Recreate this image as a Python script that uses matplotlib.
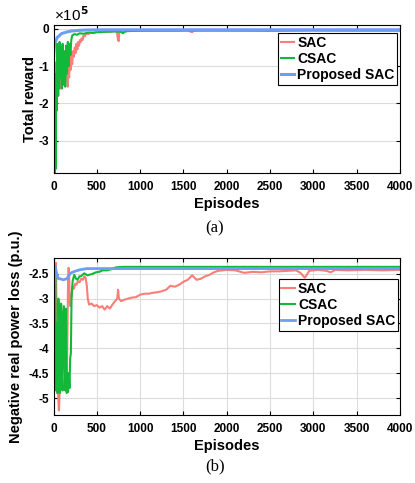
import matplotlib
matplotlib.use('Agg')
import matplotlib.pyplot as plt
from matplotlib.ticker import FuncFormatter, FormatStrFormatter
from numpy import array

plt.rcParams['font.family'] = ['Liberation Sans', 'DejaVu Sans']
plt.rcParams['font.weight'] = 'bold'
plt.rcParams['axes.labelweight'] = 'bold'
plt.rcParams['axes.unicode_minus'] = False

labels = ['SAC', 'CSAC', 'Proposed SAC']
colors = ['#f77f77', '#12b83a', '#6e9ef2']

# (a) total reward, values in units of 1e5
sac_a_ep = [0, 8, 15, 22, 30, 38, 45, 55, 65, 75, 85, 95, 105, 115, 125, 135, 145, 155, 165, 172,
            180, 188, 196, 205, 215, 225, 235, 245, 255, 265, 275, 285, 295, 305, 315, 325, 335, 345,
            360, 380, 400, 430, 460, 500, 550, 600, 650, 700, 730, 745, 752, 760, 780, 850, 950,
            1050, 1200, 1400, 1550, 1600, 1620, 1650, 1800, 2000, 2250, 2500, 2750, 3000, 3250,
            3500, 3750, 4000]
sac_a = [-0.7, -1.3, -0.9, -1.7, -1.4, -2.0, -1.3, -1.8, -1.0, -1.6, -0.9, -1.45, -0.8, -1.2, -0.6,
         -1.1, -0.7, -1.3, -1.55, -0.9, -1.3, -0.85, -1.1, -0.65, -0.95, -0.6, -0.75, -0.5, -0.65,
         -0.4, -0.55, -0.35, -0.45, -0.3, -0.35, -0.25, -0.3, -0.18, -0.2, -0.12, -0.14, -0.1,
         -0.11, -0.08, -0.09, -0.07, -0.08, -0.06, -0.07, -0.3, -0.33, -0.08, -0.06, -0.06, -0.05,
         -0.05, -0.045, -0.05, -0.045, -0.09, -0.05, -0.045, -0.04, -0.045, -0.04, -0.045, -0.04,
         -0.04, -0.045, -0.04, -0.04, -0.04]

csac_a_ep = [0, 5, 10, 15, 20, 25, 30, 35, 40, 48, 55, 62, 70, 78, 85, 95, 105, 115, 125, 135,
             145, 155, 165, 175, 185, 195, 205, 215, 240, 270, 300, 350, 400, 450, 500, 600, 700,
             780, 800, 820, 850, 1000, 1200, 1500, 2000, 2500, 3000, 3500, 4000]
csac_a = [-0.6, -1.5, -3.0, -3.85, -2.5, -3.75, -1.2, -2.2, -0.4, -1.8, -0.5, -1.6, -0.35, -1.3,
          -0.5, -1.6, -0.4, -1.5, -0.6, -1.55, -0.45, -1.2, -0.35, -1.0, -0.4, -0.7, -0.3, -0.18,
          -0.14, -0.16, -0.12, -0.13, -0.1, -0.11, -0.09, -0.08, -0.07, -0.08, -0.12, -0.08, -0.06,
          -0.05, -0.05, -0.045, -0.045, -0.05, -0.04, -0.045, -0.045]

psac_a_ep = [0, 10, 20, 30, 45, 60, 80, 100, 130, 160, 200, 260, 300, 400, 600, 1000, 2000,
             3000, 4000]
psac_a = [-0.75, -0.45, -0.35, -0.3, -0.22, -0.2, -0.15, -0.12, -0.1, -0.08, -0.06, -0.05, -0.04,
          -0.03, -0.025, -0.025, -0.025, -0.025, -0.025]

# (b) negative real power loss (p.u.)
sac_b_ep = [0, 5, 10, 15, 22, 28, 34, 40, 48, 55, 62, 68, 75, 85, 95, 105, 115, 125, 135, 145, 155,
            162, 168, 174, 180, 186, 192, 200, 210, 220, 235, 250, 265, 280, 300, 320, 340, 355,
            370, 385, 395, 410, 440, 470, 500, 530, 560, 590, 620, 650, 680, 710, 735, 745, 755,
            780, 820, 860, 900, 950, 1000, 1050, 1100, 1150, 1200, 1250, 1300, 1350, 1400, 1450,
            1500, 1550, 1600, 1650, 1700, 1750, 1800, 1850, 1900, 2000, 2100, 2200, 2300, 2400,
            2500, 2600, 2700, 2800, 2850, 2900, 2930, 2950, 3050, 3150, 3200, 3250, 3400, 3600,
            3800, 4000]
sac_b = [-4.6, -4.9, -3.6, -4.5, -2.6, -2.28, -3.2, -4.9, -4.6, -5.0, -5.25, -5.0, -4.5, -4.8,
         -4.0, -4.4, -4.0, -4.3, -3.8, -4.1, -4.5, -3.5, -2.6, -2.38, -2.5, -3.0, -3.15, -3.05,
         -2.9, -2.75, -2.8, -2.7, -2.72, -2.65, -2.67, -2.6, -2.62, -2.55, -2.58, -2.75, -3.0,
         -3.12, -3.1, -3.15, -3.13, -3.18, -3.15, -3.22, -3.15, -3.2, -3.12, -3.05, -3.0, -2.82,
         -3.0, -3.05, -3.02, -3.0, -2.98, -2.97, -2.92, -2.9, -2.9, -2.88, -2.87, -2.85, -2.82,
         -2.74, -2.76, -2.72, -2.66, -2.62, -2.53, -2.62, -2.6, -2.55, -2.52, -2.47, -2.44, -2.42,
         -2.43, -2.48, -2.46, -2.47, -2.45, -2.45, -2.44, -2.43, -2.48, -2.58, -2.5, -2.44, -2.42,
         -2.44, -2.47, -2.42, -2.43, -2.42, -2.43, -2.42]

csac_b_ep = [0, 8, 14, 20, 26, 32, 40, 48, 56, 64, 72, 80, 88, 96, 104, 112, 120, 128, 136, 144,
             152, 160, 168, 176, 184, 192, 200, 208, 220, 239, 260, 277, 300, 316, 354, 392, 450,
             489, 527, 565, 620, 681, 720, 800, 1000, 1500, 2000, 2500, 3000, 3500, 4000]
csac_b = [-2.8, -4.5, -3.2, -2.35, -3.9, -4.85, -3.5, -4.9, -3.0, -3.5, -4.9, -3.4, -3.1, -4.5,
          -4.85, -3.3, -3.15, -4.2, -4.85, -3.2, -4.9, -4.85, -4.88, -4.5, -4.8, -4.2, -4.1, -3.0,
          -2.65, -2.52, -2.6, -2.62, -2.55, -2.55, -2.49, -2.53, -2.5, -2.47, -2.46, -2.43, -2.43,
          -2.4, -2.37, -2.36, -2.36, -2.36, -2.36, -2.36, -2.36, -2.36, -2.36]

psac_b_ep = [0, 8, 19, 30, 45, 58, 80, 110, 154, 193, 230, 300, 385, 500, 1000, 2000, 3000, 4000]
psac_b = [-3.19, -2.7, -2.35, -2.45, -2.55, -2.6, -2.6, -2.62, -2.6, -2.49, -2.46, -2.42, -2.395,
          -2.395, -2.395, -2.395, -2.395, -2.395]


def style_axes(ax):
    ax.tick_params(direction='in', top=True, right=True, length=3, width=0.8, labelsize=8.5)
    ax.tick_params(axis='x', pad=6)
    for s in ax.spines.values():
        s.set_linewidth(0.8)
    ax.set_xlim(0, 4000)
    ax.set_xticks(range(0, 4001, 500))
    ax.set_xlabel('Episodes', fontsize=10.5, labelpad=3)


fig = plt.figure(figsize=(4.15, 4.83), dpi=100)

# ---- (a)
ax1 = fig.add_axes([0.129, 0.642, 0.835, 0.306])
ax1.plot(sac_a_ep, array(sac_a) * 1e5, color=colors[0], lw=1.5, label=labels[0])
ax1.plot(csac_a_ep, array(csac_a) * 1e5, color=colors[1], lw=1.5, label=labels[1])
ax1.plot(psac_a_ep, array(psac_a) * 1e5, color=colors[2], lw=2.2, label=labels[2])
ax1.set_ylim(-3.86e5, 0.1e5)
ax1.set_yticks([-3e5, -2e5, -1e5, 0])
ax1.yaxis.set_major_formatter(FuncFormatter(lambda v, p: '%g' % (v / 1e5)))
style_axes(ax1)
ax1.yaxis.grid(True, color='#dcdcdc', lw=0.8)
ax1.set_axisbelow(True)
ax1.set_ylabel('Total reward', fontsize=10.5, labelpad=1)
ax1.text(0.0, 1.03, '×10$^{5}$', transform=ax1.transAxes, fontsize=11, fontweight='normal')
ax1.legend(loc='upper right', bbox_to_anchor=(0.992, 0.946), borderaxespad=0, fontsize=10,
           handlelength=1.0, handletextpad=0.2, borderpad=0.2, labelspacing=0.15,
           fancybox=False, edgecolor='black', framealpha=1).get_frame().set_linewidth(0.8)

# ---- (b)
ax2 = fig.add_axes([0.129, 0.141, 0.835, 0.325])
ax2.plot(sac_b_ep, sac_b, color=colors[0], lw=1.5, label=labels[0])
ax2.plot(csac_b_ep, csac_b, color=colors[1], lw=1.5, label=labels[1])
ax2.plot(psac_b_ep, psac_b, color=colors[2], lw=2.0, label=labels[2])
ax2.set_ylim(-5.34, -2.18)
ax2.set_yticks([-5, -4.5, -4, -3.5, -3, -2.5])
ax2.yaxis.set_major_formatter(FormatStrFormatter('%g'))
style_axes(ax2)
ax2.grid(True, color='#dcdcdc', lw=0.8)
ax2.set_axisbelow(True)
ax2.set_ylabel('Negative real power loss (p.u.)', fontsize=10.5)
ax2.legend(loc='upper right', bbox_to_anchor=(0.994, 0.866), borderaxespad=0, fontsize=10,
           handlelength=1.0, handletextpad=0.2, borderpad=0.2, labelspacing=0.15,
           fancybox=False, edgecolor='black', framealpha=1).get_frame().set_linewidth(0.8)

fig.text(0.518, 1 - 228 / 483, '(a)', ha='center', va='center', fontsize=12,
         family='Liberation Serif', fontweight='normal')
fig.text(0.518, 1 - 466 / 483, '(b)', ha='center', va='center', fontsize=12,
         family='Liberation Serif', fontweight='normal')

fig.savefig('out.png', dpi=100)
